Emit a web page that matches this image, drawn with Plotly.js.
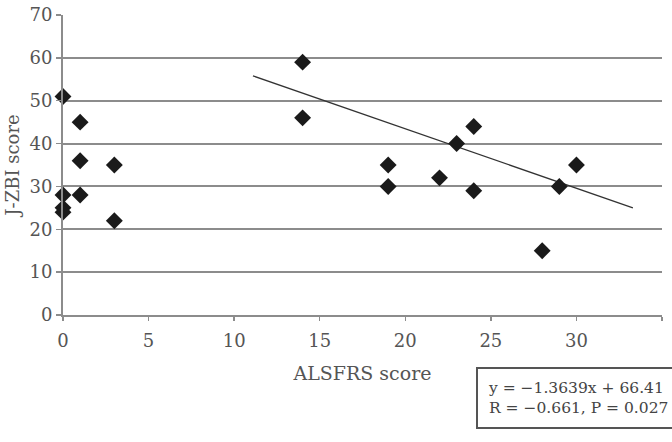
<!DOCTYPE html>
<html>
<head>
<meta charset="utf-8">
<script src="https://cdn.plot.ly/plotly-3.0.1.min.js"></script>
<style>html,body{margin:0;padding:0;background:#fff;}#chart{width:672px;height:442px;}</style>
</head>
<body>
<div id="chart"></div>
<script>
// Data
var alsfrs = [0, 0, 0, 0, 1, 1, 1, 3, 3, 14, 14, 19, 19, 22, 23, 24, 24, 28, 29, 30];
var jzbi   = [51, 28, 25, 24, 45, 36, 28, 35, 22, 59, 46, 35, 30, 32, 40, 44, 29, 15, 30, 35];
// Regression line as drawn in the picture (start and end)
var trendX = [11.1, 33.3];
var trendY = [55.8, 25.0];
var yTicks = [0, 10, 20, 30, 40, 50, 60, 70];
var xTicks = [0, 5, 10, 15, 20, 25, 30, 35];
var statsLines = ["y = \u22121.3639x + 66.41", "R = \u22120.661, P = 0.027"];

var serif = "DejaVu Serif";

var traces = [
  {
    x: trendX, y: trendY, type: "scatter", mode: "lines",
    line: {color: "#333333", width: 1.3}, hoverinfo: "skip", showlegend: false
  },
  {
    x: alsfrs, y: jzbi, type: "scatter", mode: "markers", cliponaxis: false,
    marker: {symbol: "diamond", size: 13, color: "#1a1a1a"}, showlegend: false
  }
];

var layout = {
  width: 672, height: 442,
  margin: {l: 63, r: 10, t: 15, b: 127},
  paper_bgcolor: "#ffffff", plot_bgcolor: "#ffffff",
  font: {family: serif, color: "#555555", size: 18},
  showlegend: false,
  xaxis: {
    range: [0, 35], tickvals: xTicks, ticktext: xTicks.map(String),
    showgrid: false, zeroline: false,
    showline: true, linecolor: "#8c8c8c", linewidth: 2,
    ticks: "outside", ticklen: 4, tickwidth: 1.5, tickcolor: "#8c8c8c",
    ticklabelstandoff: 4,
    tickfont: {family: serif, size: 18, color: "#555555"},
    title: {text: "ALSFRS score", font: {family: serif, size: 19, color: "#555555"}, standoff: 17},
    automargin: false, fixedrange: true
  },
  yaxis: {
    range: [0, 70], tickvals: yTicks, ticktext: yTicks.map(String),
    showgrid: true, gridcolor: "#8c8c8c", gridwidth: 2,
    zeroline: false,
    showline: true, linecolor: "#8c8c8c", linewidth: 2,
    ticks: "outside", ticklen: 5, tickwidth: 1.5, tickcolor: "#8c8c8c",
    tickfont: {family: serif, size: 18, color: "#555555"},
    title: {text: "J-ZBI score", font: {family: serif, size: 18, color: "#555555"}, standoff: 5},
    automargin: false, fixedrange: true
  },
  annotations: [
    {
      xref: "paper", yref: "paper", x: 0.6897, y: -0.173,
      xanchor: "left", yanchor: "top", align: "left", showarrow: false,
      text: statsLines.join("<br>"),
      font: {family: serif, size: 15.5, color: "#444444"},
      bordercolor: "#555555", borderwidth: 2, borderpad: 10, bgcolor: "#ffffff"
    }
  ]
};

Plotly.newPlot("chart", traces, layout, {displayModeBar: false, staticPlot: true});
</script>
</body>
</html>
